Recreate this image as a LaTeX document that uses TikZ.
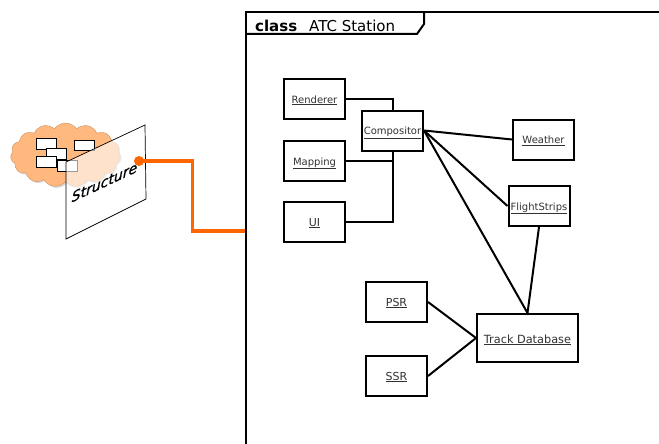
\documentclass[tikz,border=0pt]{standalone}
\usepackage{fontspec}
\setmainfont{DejaVu Sans}
\usetikzlibrary{shapes.symbols, shadows, calc}
\definecolor{orangeLink}{RGB}{255,102,0}
\definecolor{orangeCloud}{RGB}{255,184,125}
\definecolor{greyLabel}{RGB}{50,50,50}
\newcommand{\partlabel}[1]{\underline{#1}}

\begin{document}
\begin{tikzpicture}[
  x=1pt, y=-1pt,
  part/.style={rectangle, draw=black, line width=2pt, fill=white,
               inner sep=0pt, minimum width=61pt, minimum height=40pt,
               text height=8pt, text depth=0pt,
               text=greyLabel, font=\fontsize{10}{11}\selectfont},
  link/.style={line width=2pt, black},
  minibox/.style={rectangle, draw=black, line width=0.6pt, fill=white,
                  inner sep=0pt, minimum width=20pt, minimum height=10.5pt}
]
  \useasboundingbox (0,0) rectangle (659,444);

  % left-hand figure
  \node[cloud, cloud puffs=15, cloud puff arc=110, cloud ignores aspect,
        draw=orangeCloud!80!black, fill=orangeCloud, line width=0.4pt,
        drop shadow={shadow xshift=1.5pt, shadow yshift=-1.5pt, opacity=0.3},
        inner sep=0pt, minimum width=110pt, minimum height=64pt]
    (cloud) at (65.5,155) {};
  \node[minibox] (boxA) at (46,144) {};
  \node[minibox] (boxB) at (56.5,154) {};
  \node[minibox] (boxC) at (46,162) {};
  \node[minibox] (boxD) at (84.5,145.5) {};
  \node[minibox] (boxE) at (67.5,166) {};

  \fill[white, opacity=0.6] (66,162) -- (145,125) -- (146,199) -- (66,239) -- cycle;
  \draw[line width=0.7pt] (66,162) -- (145,125) -- (146,199) -- (66,239) -- cycle;
  \node[yslant=0.47, inner sep=0pt,
        font=\itshape\addfontfeatures{FakeBold=1}\fontsize{14}{15}\selectfont]
    (structure) at (104.5,182) {Structure};

  \node[circle, fill=orangeLink, inner sep=0pt, minimum size=10pt] (port) at (139,161) {};
  \coordinate (bend) at (192.5,231);
  \coordinate (framePort) at (245,231);
  \draw[line width=3.5pt, orangeLink] (port.center) -| (bend) -- (framePort);

  % frame and tab
  \draw[line width=2pt] (245.5,444) -- (245.5,12.5) -- (659,12.5);
  \draw[line width=2pt] (245.5,34) -- (417,34) -- (424,24) -- (424,12.5);
  \node[anchor=base west, inner sep=0pt, font=\fontsize{15}{16}\selectfont]
    (title) at (255,31.5) {\textbf{class}\hspace{0.8em}ATC Station};

  % parts
  \node[part] (renderer) at (314.5,99) {\partlabel{Renderer}};
  \node[part] (mapping) at (314.5,161) {\partlabel{Mapping}};
  \node[part, font=\fontsize{11}{12}\selectfont] (ui) at (314.5,222) {\partlabel{UI}};
  \node[part] (compositor) at (392.5,130.5) {\partlabel{Compositor}};
  \node[part] (weather) at (543.5,139.5) {\partlabel{Weather}};
  \node[part] (flightstrips) at (539,206) {\partlabel{FlightStrips}};
  \node[part, font=\fontsize{11}{12}\selectfont] (psr) at (396.5,302) {\partlabel{PSR}};
  \node[part, font=\fontsize{11}{12}\selectfont] (ssr) at (396.5,376) {\partlabel{SSR}};
  \node[part, minimum width=101pt, minimum height=48pt, text height=10pt,
        font=\fontsize{11.3}{12}\selectfont]
    (trackdb) at (527.5,338) {\partlabel{Track Database}};

  \draw[link] (renderer.east) -| (compositor.north);
  \draw[link] (mapping.east) -| (compositor.south);
  \draw[link] (ui.east) -| (compositor.south);
  \draw[link] (compositor.east) -- (weather.west);
  \draw[link] (compositor.east) -- (flightstrips.west);
  \draw[link] (compositor.east) -- (trackdb.north);
  \draw[link] (flightstrips.south) -- (trackdb.north);
  \draw[link] (psr.east) -- (trackdb.west);
  \draw[link] (ssr.east) -- (trackdb.west);
\end{tikzpicture}
\end{document}
